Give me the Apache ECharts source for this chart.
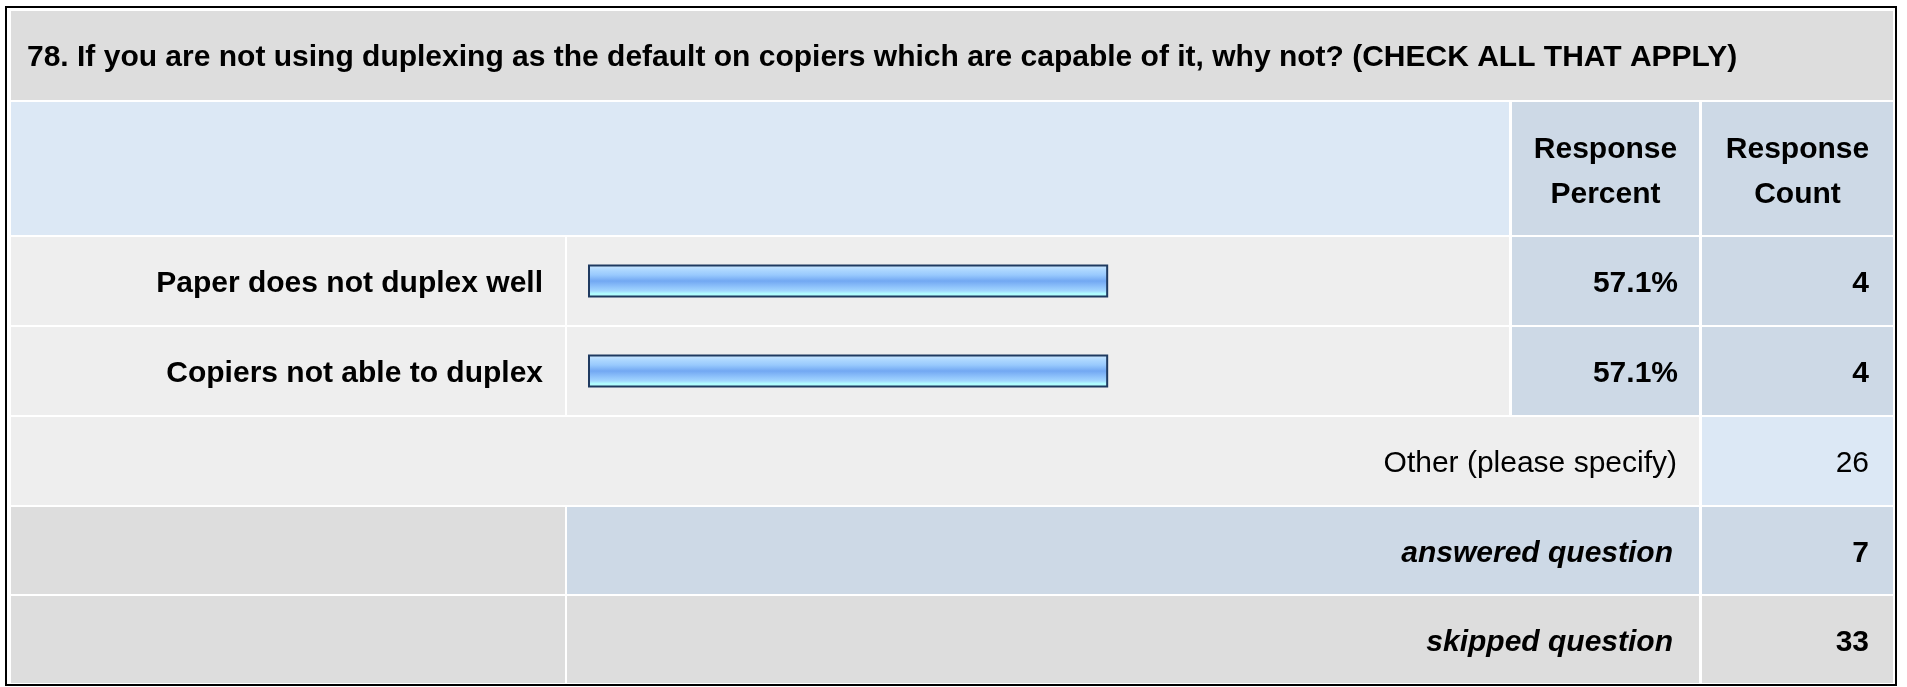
<!DOCTYPE html>
<html>
<head>
<meta charset="utf-8">
<script src="https://cdn.jsdelivr.net/npm/echarts@6/dist/echarts.min.js"></script>
<style>
html,body{margin:0;padding:0;background:#fff;}
#chart{width:1907px;height:687px;}
</style>
</head>
<body>
<div id="chart"></div>
<script>
// ---- data ----
const titleText = "78. If you are not using duplexing as the default on copiers which are capable of it, why not? (CHECK ALL THAT APPLY)";
const headerLabels = ["Response\nPercent", "Response\nCount"];
const categories = ["Paper does not duplex well", "Copiers not able to duplex"];
const percents = [57.1, 57.1];
const counts = [4, 4];
const otherLabel = "Other (please specify)";
const otherCount = 26;
const summaryLabels = ["answered question", "skipped question"];
const summaryCounts = [7, 33];

// ---- layout ----
const FONT = "'Liberation Sans', Arial, Helvetica, sans-serif";
const colX = [11, 567, 1512, 1702];        // column left edges
const colR = [565, 1509, 1699, 1893];      // column right edges
const rows = [[11, 100], [102, 235], [237, 325], [327, 415], [417, 505], [507, 594], [596, 683]];
const C_GREY = '#dddddd', C_LIGHT = '#eeeeee', C_HEAD = '#dce8f5', C_COL = '#cdd9e6';
const TEXT_DY = 3;

const g = [];
function rect(x1, x2, r, fill) {
  g.push({type: 'rect', z: 0, shape: {x: x1, y: rows[r][0], width: x2 - x1, height: rows[r][1] - rows[r][0]}, style: {fill: fill}});
}
function text(x, r, str, align, opts, dy) {
  const yc = (rows[r][0] + rows[r][1]) / 2 + (dy === undefined ? TEXT_DY : dy);
  g.push({type: 'text', z: 10, x: x, y: yc, style: Object.assign({
    text: str, fill: '#000', font: 'bold 30px ' + FONT, align: align, verticalAlign: 'middle'
  }, opts || {})});
}
// outer border
g.push({type: 'rect', z: 0, shape: {x: 6, y: 7, width: 1890, height: 678}, style: {fill: '#fff', stroke: '#000', lineWidth: 2}});
// title row
rect(colX[0], colR[3], 0, C_GREY);
text(27, 0, titleText, 'left', null, 2);
// header row
rect(colX[0], colR[1], 1, C_HEAD);
rect(colX[2], colR[2], 1, C_COL);
rect(colX[3], colR[3], 1, C_COL);
text((colX[2] + colR[2]) / 2, 1, headerLabels[0], 'center', {lineHeight: 45}, 4);
text((colX[3] + colR[3]) / 2, 1, headerLabels[1], 'center', {lineHeight: 45}, 4);
// answer rows
categories.forEach(function (c, i) {
  const r = 2 + i;
  rect(colX[0], colR[0], r, C_LIGHT);
  rect(colX[1], colR[1], r, C_LIGHT);
  rect(colX[2], colR[2], r, C_COL);
  rect(colX[3], colR[3], r, C_COL);
  text(543, r, c, 'right');
  text(1678, r, percents[i].toFixed(1) + '%', 'right');
  text(1869, r, String(counts[i]), 'right');
});
// other row
rect(colX[0], colR[2], 4, C_LIGHT);
rect(colX[3], colR[3], 4, C_HEAD);
text(1677, 4, otherLabel, 'right', {font: '30px ' + FONT});
text(1869, 4, String(otherCount), 'right', {font: '30px ' + FONT});
// summary rows
rect(colX[0], colR[0], 5, C_GREY);
rect(colX[1], colR[2], 5, C_COL);
rect(colX[3], colR[3], 5, C_COL);
rect(colX[0], colR[0], 6, C_GREY);
rect(colX[1], colR[2], 6, C_GREY);
rect(colX[3], colR[3], 6, C_GREY);
summaryLabels.forEach(function (s, i) {
  text(1673, 5 + i, s, 'right', {font: 'italic bold 30px ' + FONT});
  text(1869, 5 + i, String(summaryCounts[i]), 'right');
});

const chart = echarts.init(document.getElementById('chart'), null, {renderer: 'canvas'});
chart.setOption({
  backgroundColor: '#ffffff',
  animation: false,
  grid: {left: 588, width: 911, top: 236, height: 180, containLabel: false},
  xAxis: {type: 'value', min: 0, max: 100, show: false},
  yAxis: {type: 'category', data: categories, inverse: true, show: false},
  graphic: {elements: g},
  series: [{
    type: 'bar',
    data: percents,
    barWidth: 33,
    z: 5,
    itemStyle: {
      borderColor: '#1f3a60',
      borderWidth: 2,
      color: {
        type: 'linear', x: 0, y: 0, x2: 0, y2: 1,
        colorStops: [
          {offset: 0, color: '#d2ebff'},
          {offset: 0.15, color: '#b0d9ff'},
          {offset: 0.32, color: '#98c9fd'},
          {offset: 0.5, color: '#72a8f2'},
          {offset: 0.66, color: '#8cc0fa'},
          {offset: 0.8, color: '#a2d6ff'},
          {offset: 0.88, color: '#b0fcff'},
          {offset: 1, color: '#b0ffff'}
        ]
      }
    }
  }]
});
</script>
</body>
</html>
